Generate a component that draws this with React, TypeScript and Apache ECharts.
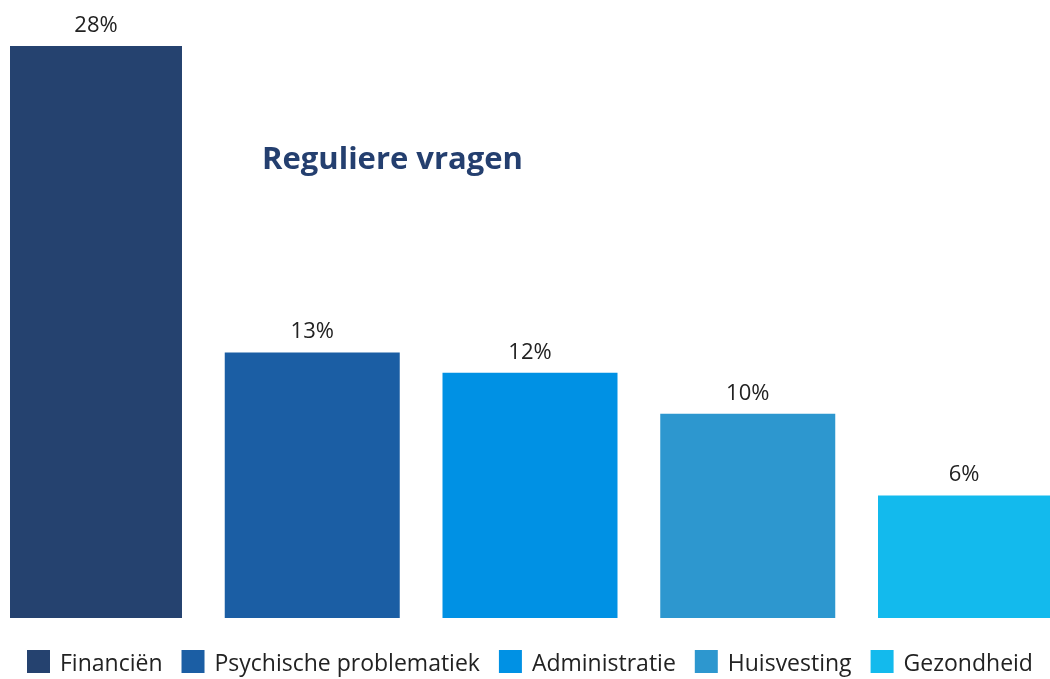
import React, { useEffect, useRef } from "react";
import * as echarts from "echarts";

const categories = ["Financiën", "Psychische problematiek", "Administratie", "Huisvesting", "Gezondheid"];
const values = [28, 13, 12, 10, 6];
const colors = ["#25426f", "#1b5ea4", "#0091e4", "#2d97cf", "#13baed"];
const titleText = "Reguliere vragen";

export default function App() {
  const ref = useRef<HTMLDivElement>(null);
  useEffect(() => {
    if (!ref.current) return;
    const chart = echarts.init(ref.current, null, { renderer: "svg" });
    chart.setOption({
      animation: false,
      grid: { left: 10, width: 1062, top: 46, bottom: 61, containLabel: false },
      xAxis: { type: "category", data: ["all"], show: false },
      yAxis: { type: "value", min: 0, max: 28, show: false },
      legend: {
        left: 22,
        top: 645,
        itemWidth: 23,
        itemHeight: 23,
        itemGap: 19,
        icon: "rect",
        textStyle: { fontFamily: "Open Sans", fontSize: 23, color: "#222", padding: [0, 0, 0, 5] },
        data: categories,
      },
      graphic: [
        {
          type: "text",
          left: 262,
          top: 141,
          style: { text: titleText, fontFamily: "Open Sans", fontWeight: "bold", fontSize: 31, fill: "#243f6f" },
        },
      ],
      series: categories.map((c, i) => ({
        type: "bar",
        name: c,
        data: [values[i]],
        barWidth: 175,
        barGap: "24.43%",
        itemStyle: { color: colors[i] },
        label: {
          show: true,
          position: "top",
          distance: 12,
          formatter: "{c}%",
          fontFamily: "Open Sans",
          fontSize: 22,
          color: "#222",
        },
      })),
    });
    return () => chart.dispose();
  }, []);
  return <div ref={ref} style={{ position: "fixed", left: 0, top: 0, width: 1050, height: 679 }} />;
}
